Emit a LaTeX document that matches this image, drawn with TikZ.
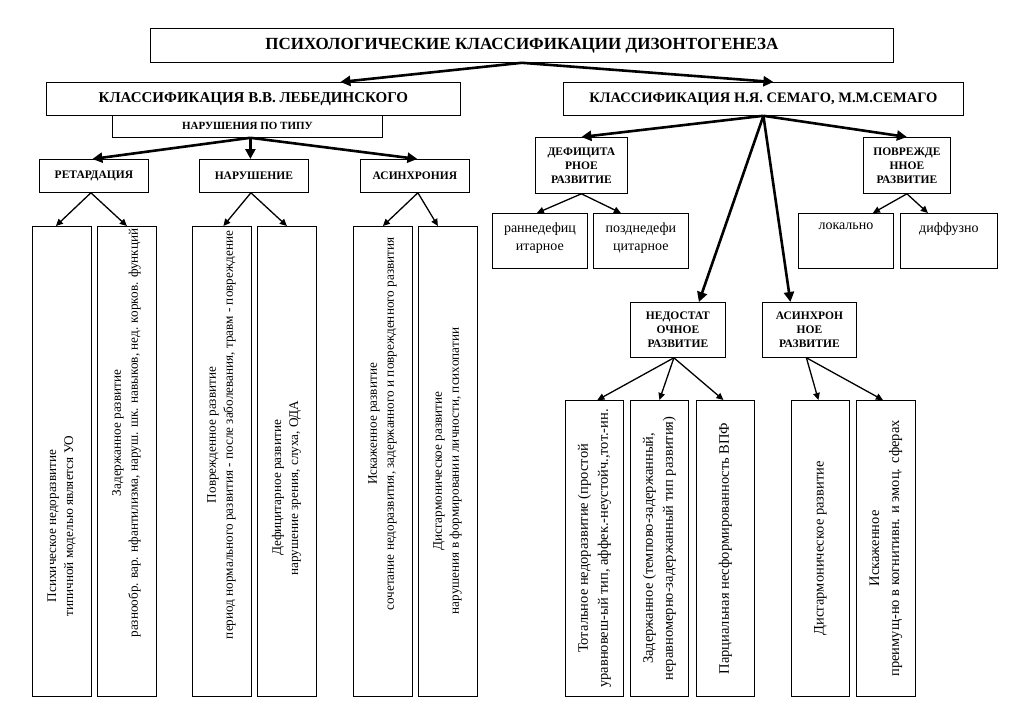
\documentclass[tikz,border=0pt]{standalone}
\usepackage{fontspec}
\setmainfont{Liberation Serif}
\usetikzlibrary{arrows.meta}
\tikzset{
  box/.style={draw=black, line width=0.8pt, inner sep=0pt, anchor=north west, align=center},
  tarr/.style={line width=2.6pt, -{Triangle[length=10pt,width=10pt]}},
  narr/.style={line width=1.3pt, -{Triangle[length=7pt,width=6.5pt]}},
  hd/.style={font=\bfseries\fontsize{11.5}{14}\selectfont},
  ltxt/.style={rotate=90, align=center, font=\fontsize{13.2}{17}\selectfont},
  rtxt/.style={rotate=90, align=center, font=\fontsize{14.5}{20}\selectfont},
  stxt/.style={anchor=north, align=center, font=\fontsize{14}{18}\selectfont}
}
\newcommand{\bx}[7][]{\node[box, #1, minimum width=#5pt, minimum height=#6pt] (#2) at (#3,#4) {#7};}
\begin{document}
\begin{tikzpicture}[x=1pt,y=-1pt]
\fill[white] (0,0) rectangle (1024,725);
\useasboundingbox (0,0) rectangle (1024,725);
% top level
\bx[font=\bfseries\fontsize{17}{20}\selectfont]{title}{150}{28}{743}{34}{ПСИХОЛОГИЧЕСКИЕ КЛАССИФИКАЦИИ ДИЗОНТОГЕНЕЗА}
\bx[font=\bfseries\fontsize{15}{17}\selectfont]{leb}{46}{82}{414}{33}{КЛАССИФИКАЦИЯ В.В. ЛЕБЕДИНСКОГО}
\bx[font=\bfseries\fontsize{14.5}{17}\selectfont]{sem}{563}{82}{400}{33}{КЛАССИФИКАЦИЯ Н.Я. СЕМАГО, М.М.СЕМАГО}
\bx[font=\bfseries\fontsize{11}{13}\selectfont]{tip}{112}{115}{270}{22}{НАРУШЕНИЯ ПО ТИПУ}
% left second level
\bx[hd]{ret}{39}{159}{109}{33}{РЕТАРДАЦИЯ}
\bx[hd]{nar}{199}{159}{109}{33}{НАРУШЕНИЕ}
\bx[hd]{asy}{360}{159}{109}{33}{АСИНХРОНИЯ}
% left tall boxes
\bx{b1}{32}{226}{59}{470}{}
\bx{b2}{97}{226}{59}{470}{}
\bx{b3}{192}{226}{59}{470}{}
\bx{b4}{257}{226}{59}{470}{}
\bx{b5}{353}{226}{59}{470}{}
\bx{b6}{418}{226}{59}{470}{}
\node[ltxt] (t1) at (61.5,526) {Психическое недоразвитие\\типичной моделью является УО};
\node[ltxt] (t2) at (126.5,433) {Задержанное развитие\\разнообр. вар. нфантилизма, наруш. шк. навыков, нед. корков. функций};
\node[ltxt] (t3) at (221.5,435) {Поврежденное развитие\\период нормального развития - после заболевания, травм - повреждение};
\node[ltxt] (t4) at (286.5,488) {Дефицитарное развитие\\нарушение зрения, слуха, ОДА};
\node[ltxt] (t5) at (382.5,424) {Искаженное развитие\\сочетание недоразвития, задержанного и поврежденного развития};
\node[ltxt] (t6) at (447.5,471) {Дисгармоническое развитие\\нарушения в формировании личности, психопатии};
% right second level
\bx[hd]{def}{535}{137}{92}{56}{ДЕФИЦИТА\\РНОЕ\\РАЗВИТИЕ}
\bx[hd]{pov}{863}{137}{87}{56}{ПОВРЕЖДЕ\\ННОЕ\\РАЗВИТИЕ}
\bx[hd]{ned}{630}{302}{95}{55}{НЕДОСТАТ\\ОЧНОЕ\\РАЗВИТИЕ}
\bx[hd]{asn}{762}{302}{94}{55}{АСИНХРОН\\НОЕ\\РАЗВИТИЕ}
% small boxes
\bx{ran}{492}{213}{95}{55}{}
\bx{poz}{593}{213}{95}{55}{}
\bx{lok}{798}{213}{95}{55}{}
\bx{dif}{900}{213}{97}{55}{}
\node[stxt] (tran) at ([yshift=-6pt]ran.north) {раннедефиц\\итарное};
\node[stxt] (tpoz) at ([yshift=-6pt]poz.north) {позднедефи\\цитарное};
\node[stxt] (tlok) at ([yshift=-6pt]lok.north) {локально};
\node[stxt] (tdif) at ([yshift=-6pt]dif.north) {диффузно};
% right tall boxes
\bx{ra}{565}{400}{58}{296}{}
\bx{rb}{630}{400}{58}{296}{}
\bx{rc}{696}{400}{58}{296}{}
\bx{rd}{791}{400}{58}{296}{}
\bx{re}{856}{400}{59}{296}{}
\node[rtxt] (tra) at (ra.center) {Тотальное недоразвитие (простой\\уравновеш-ый тип, аффек.-неустойч.,тот.-ин.};
\node[rtxt] (trb) at (rb.center) {Задержанное (темпово-задержанный,\\неравномерно-задержанный тип развития)};
\node[rtxt] (trc) at (rc.center) {Парциальная несформированность ВПФ};
\node[rtxt] (trd) at (rd.center) {Дисгармоническое развитие};
\node[rtxt] (tre) at (re.center) {Искаженное\\преимущ-но в когнитивн. и эмоц. сферах};
% connectors: thick
\draw[tarr] (title.south) -- ([xshift=87pt]leb.north);
\draw[tarr] (title.south) -- ([xshift=10pt]sem.north);
\draw[tarr] ([xshift=3pt]tip.south) -- ([xshift=-1.5pt]ret.north);
\draw[tarr] ([xshift=3pt]tip.south) -- ([xshift=-3.5pt]nar.north);
\draw[tarr] ([xshift=3pt]tip.south) -- ([xshift=2.5pt]asy.north);
\draw[tarr] (sem.south) -- (def.north);
\draw[tarr] (sem.south) -- (pov.north);
\draw[tarr] (sem.south) -- ([xshift=21pt]ned.north);
\draw[tarr] (sem.south) -- ([xshift=-19pt]asn.north);
% connectors: thin
\draw[narr] ([xshift=-3pt]ret.south) -- ([xshift=-6pt]b1.north);
\draw[narr] ([xshift=-3pt]ret.south) -- (b2.north);
\draw[narr] ([xshift=-3pt]nar.south) -- ([xshift=1.5pt]b3.north);
\draw[narr] ([xshift=-3pt]nar.south) -- (b4.north);
\draw[narr] ([xshift=3pt]asy.south) -- (b5.north);
\draw[narr] ([xshift=3pt]asy.south) -- ([xshift=-10pt]b6.north);
\draw[narr] (def.south) -- ([xshift=-3pt]ran.north);
\draw[narr] (def.south) -- ([xshift=-20pt]poz.north);
\draw[narr] (pov.south) -- ([xshift=27pt]lok.north);
\draw[narr] (pov.south) -- ([xshift=-21pt]dif.north);
\draw[narr] ([xshift=-4pt]ned.south) -- ([xshift=3pt]ra.north);
\draw[narr] ([xshift=-4pt]ned.south) -- (rb.north);
\draw[narr] ([xshift=-4pt]ned.south) -- ([xshift=-2pt]rc.north);
\draw[narr] ([xshift=-3pt]asn.south) -- ([xshift=-2pt]rd.north);
\draw[narr] ([xshift=-3pt]asn.south) -- ([xshift=-3pt]re.north);
\end{tikzpicture}
\end{document}
